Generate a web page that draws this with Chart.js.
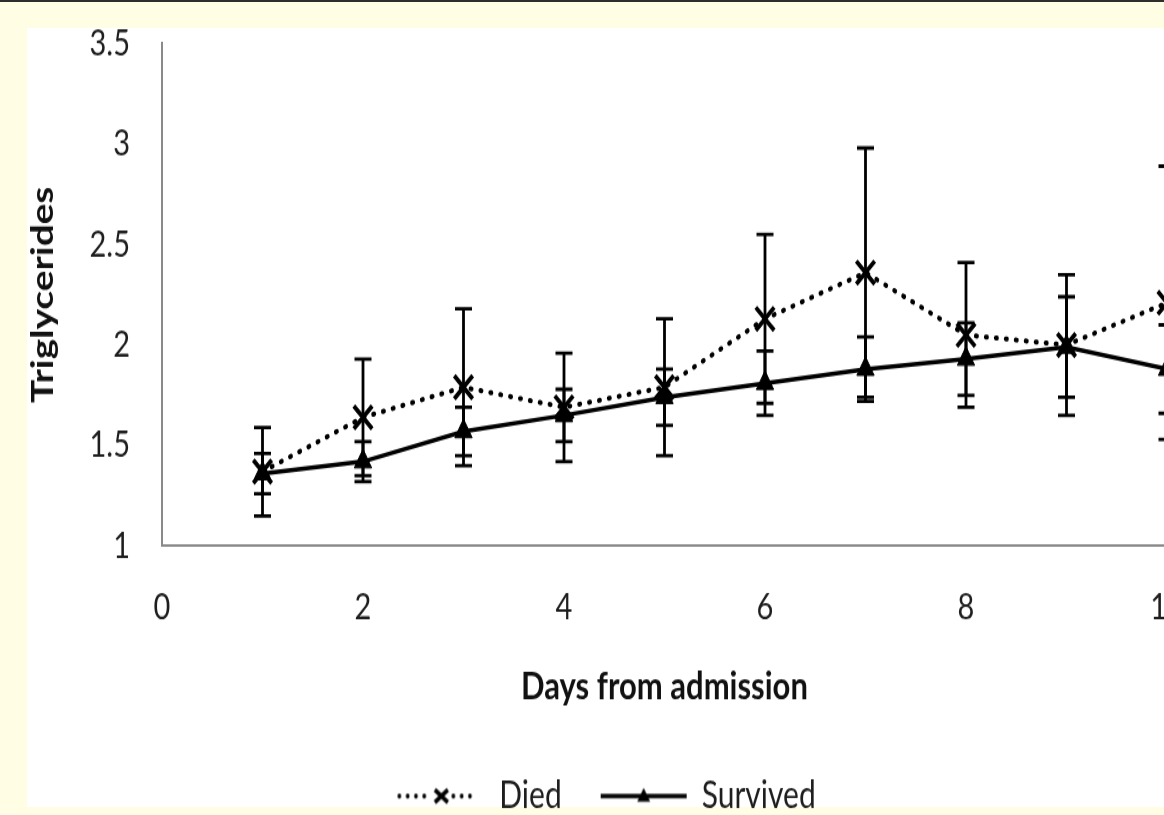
<!DOCTYPE html>
<html>
<head>
<meta charset="utf-8">
<script src="https://cdn.jsdelivr.net/npm/chart.js@4.4.1/dist/chart.umd.min.js"></script>
<style>
  html, body { margin: 0; padding: 0; width: 1164px; height: 815px; overflow: hidden; background: #fffee5; }
  body { position: relative; }
  #topline { position: absolute; left: 0; top: 0; width: 1164px; height: 2px; background: #2e2e2e; }
  #panel { position: absolute; left: 27px; top: 28px; width: 1137px; height: 779px; background: #fff; }
  /* the source picture is stretched vertically, so the chart is drawn flat and scaled */
  #wrap { position: absolute; left: 27px; top: 28px; width: 1160px; height: 652px; transform: scaleY(1.25); transform-origin: 0 0; }
</style>
</head>
<body>
<div id="topline"></div>
<div id="panel"></div>
<div id="wrap"><canvas id="chart" width="1160" height="652"></canvas></div>
<script>
  'use strict';

  // data
  const days = [1, 2, 3, 4, 5, 6, 7, 8, 9, 10];
  const diedMean = [1.37, 1.64, 1.79, 1.69, 1.79, 2.13, 2.36, 2.05, 2.00, 2.21];
  const diedSd = [0.22, 0.29, 0.39, 0.27, 0.34, 0.42, 0.62, 0.36, 0.35, 0.68];
  const survivedMean = [1.36, 1.42, 1.57, 1.65, 1.74, 1.81, 1.88, 1.93, 1.99, 1.88];
  const survivedSd = [0.10, 0.10, 0.12, 0.13, 0.14, 0.16, 0.16, 0.18, 0.25, 0.22];
  const xTicks = [0, 2, 4, 6, 8, 10];
  const yTicks = [1, 1.5, 2, 2.5, 3, 3.5];
  const seriesNames = ['Died', 'Survived'];

  const INK = '#000';
  const TEXT = '#1e1e1e';
  const AXIS = '#8a8a8a';
  const FONT = 'Lato, "Open Sans", sans-serif';
  const CAP = 8.5;

  function legendIcon(kind) {
    const c = document.createElement('canvas');
    c.width = 90; c.height = 24;
    const g = c.getContext('2d');
    const cx = 45, cy = 12;
    g.fillStyle = INK;
    g.strokeStyle = INK;
    if (kind === 'died') {
      // 4 dots before the cross, 3 after
      for (let k = 0; k < 4; k++) {
        g.beginPath(); g.arc(cx - 42 + k * 8.3, cy, 1.9, 0, Math.PI * 2); g.fill();
      }
      for (let k = 0; k < 3; k++) {
        g.beginPath(); g.arc(cx + 12 + k * 8.3, cy, 1.9, 0, Math.PI * 2); g.fill();
      }
      g.lineWidth = 3.6;
      g.beginPath();
      g.moveTo(cx - 6.5, cy - 5); g.lineTo(cx + 6.5, cy + 5);
      g.moveTo(cx + 6.5, cy - 5); g.lineTo(cx - 6.5, cy + 5);
      g.stroke();
    } else {
      g.lineWidth = 3.4;
      g.beginPath();
      g.moveTo(cx - 43, cy); g.lineTo(cx + 43, cy);
      g.stroke();
      g.beginPath();
      g.moveTo(cx, cy - 6.5); g.lineTo(cx + 6.5, cy + 4.5); g.lineTo(cx - 6.5, cy + 4.5);
      g.closePath();
      g.fill();
    }
    return c;
  }
  const icons = [legendIcon('died'), legendIcon('survived')];

  const errorBars = {
    id: 'errorBars',
    beforeDatasetsDraw(chart) {
      const { ctx, scales: { x, y } } = chart;
      const sets = [[diedMean, diedSd], [survivedMean, survivedSd]];
      ctx.save();
      ctx.strokeStyle = INK;
      ctx.lineWidth = 2.8;
      sets.forEach(([m, sd]) => {
        days.forEach((d, i) => {
          const px = x.getPixelForValue(d);
          const top = y.getPixelForValue(m[i] + sd[i]);
          const bot = y.getPixelForValue(m[i] - sd[i]);
          ctx.beginPath();
          ctx.moveTo(px, top); ctx.lineTo(px, bot);
          ctx.moveTo(px - CAP, top); ctx.lineTo(px + CAP, top);
          ctx.moveTo(px - CAP, bot); ctx.lineTo(px + CAP, bot);
          ctx.stroke();
        });
      });
      ctx.restore();
    }
  };

  new Chart(document.getElementById('chart'), {
    type: 'line',
    data: {
      datasets: [{
        label: seriesNames[0],
        data: days.map((d, i) => ({ x: d, y: diedMean[i] })),
        borderColor: INK,
        borderWidth: 4,
        borderDash: [1, 9],
        borderCapStyle: 'round',
        pointStyle: 'crossRot',
        pointRadius: 13,
        pointBorderWidth: 3.8,
        pointBorderColor: INK,
        pointBackgroundColor: INK,
        tension: 0,
        order: 1
      }, {
        label: seriesNames[1],
        data: days.map((d, i) => ({ x: d, y: survivedMean[i] })),
        borderColor: INK,
        borderWidth: 3.5,
        pointStyle: 'triangle',
        pointRadius: 10,
        pointBorderWidth: 1,
        pointBorderColor: INK,
        pointBackgroundColor: INK,
        tension: 0,
        order: 0
      }]
    },
    options: {
      responsive: false,
      animation: false,
      devicePixelRatio: 1,
      layout: { autoPadding: false, padding: { left: 20, right: 20, top: 12.4, bottom: 12.6 } },
      plugins: {
        tooltip: { enabled: false },
        legend: {
          position: 'bottom',
          labels: {
            usePointStyle: true,
            pointStyleWidth: 86,
            padding: 39,
            color: TEXT,
            font: { family: FONT, size: 30 },
            generateLabels: (chart) => chart.data.datasets.map((ds, i) => ({
              text: ds.label,
              datasetIndex: i,
              pointStyle: icons[i],
              fontColor: TEXT,
              hidden: false,
              lineWidth: 0,
              strokeStyle: 'transparent',
              fillStyle: 'transparent'
            }))
          }
        }
      },
      scales: {
        x: {
          type: 'linear',
          min: 0,
          max: 10,
          afterBuildTicks: (s) => { s.ticks = xTicks.map((v) => ({ value: v })); },
          afterFit: (s) => { s.height = 146; s.paddingLeft = 0; s.paddingRight = 0; },
          grid: { display: false, drawTicks: false },
          border: { display: true, color: AXIS, width: 2 },
          ticks: { padding: 32, maxRotation: 0, autoSkip: false, color: TEXT, font: { family: FONT, size: 29 } },
          title: {
            display: true,
            text: 'Days from admission',
            color: '#111',
            font: { family: FONT, size: 31, weight: 'bold' },
            padding: { top: 0, bottom: 15 }
          }
        },
        y: {
          min: 1,
          max: 3.5,
          afterBuildTicks: (s) => { s.ticks = yTicks.map((v) => ({ value: v })); },
          afterFit: (s) => { s.width = 115; s.paddingTop = 0; s.paddingBottom = 0; },
          grid: { display: false, drawTicks: false },
          border: { display: true, color: AXIS, width: 2 },
          ticks: { padding: 32, color: TEXT, font: { family: FONT, size: 29, lineHeight: 0.8 }, callback: (v) => String(v) },
          title: {
            display: true,
            text: 'Triglycerides',
            color: '#111',
            font: { family: FONT, size: 31, weight: 'bold' },
            padding: { top: -23, bottom: 0 }
          }
        }
      }
    },
    plugins: [errorBars]
  });
</script>
</body>
</html>
